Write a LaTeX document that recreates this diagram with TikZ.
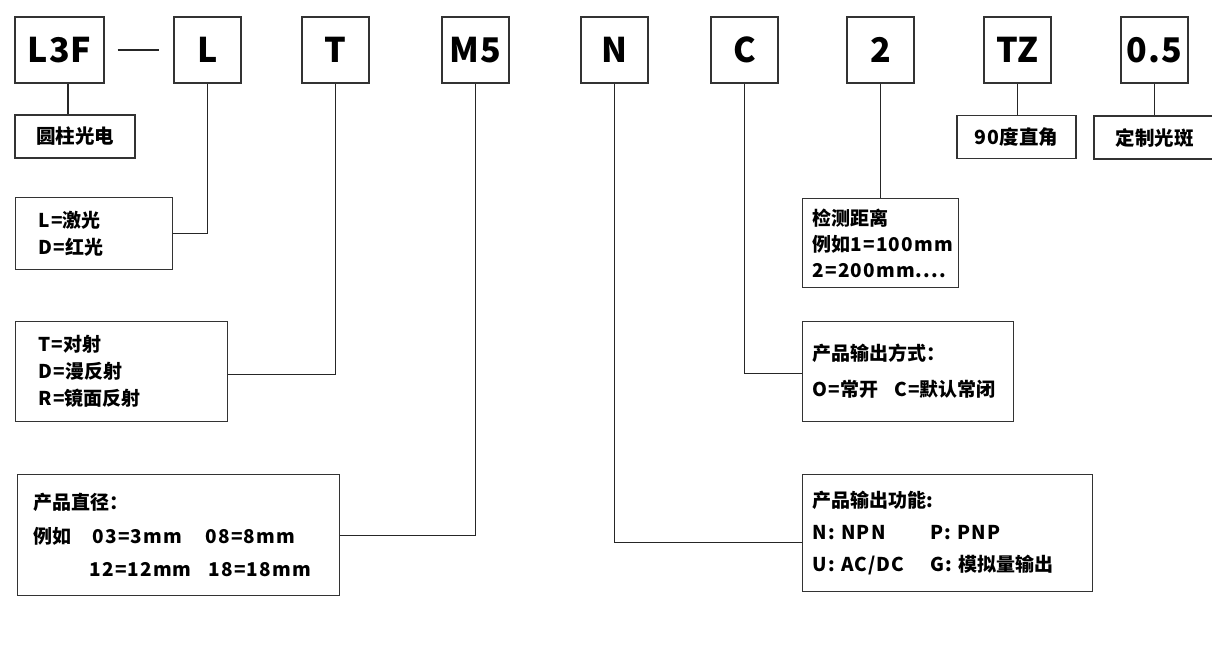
\documentclass[tikz,border=0pt]{standalone}
\usepackage{fontspec}
\newfontfamily\cjkfont{Noto Sans CJK SC}
\newfontfamily\engfont{Noto Sans CJK SC}[LetterSpace=6]
\newfontfamily\codefont{Noto Sans CJK SC}[LetterSpace=3]
\newcommand\eng[1]{{\engfont\bfseries #1}}
\usetikzlibrary{calc,positioning}
\tikzset{
  wire/.style={draw=black!85,line width=1.1pt},
  base/.style={draw=black!80,line width=1.2pt,inner ysep=0pt,
               font=\cjkfont\bfseries\fontsize{19}{27}\selectfont},
  code/.style={base,inner xsep=0pt,minimum width=67pt,minimum height=66pt,
               font=\codefont\bfseries\fontsize{34}{34}\selectfont},
  tagbox/.style={base,inner xsep=0pt,minimum height=43pt,font=\cjkfont\bfseries\fontsize{19.5}{20}\selectfont},
  note/.style={base,anchor=north west,align=left}
}
\begin{document}
\begin{tikzpicture}[x=1pt,y=-1pt]
  \useasboundingbox (0,0) rectangle (1212,658);
  % code row
  \node[code,minimum width=89pt] (l3f) at (59.5,50) {L3F};
  \foreach \n/\x/\t in {lsrc/207.5/L,tmode/335.5/T,dia/475.5/M5,outfn/614.5/N,
                        outmode/744.5/C,range/880.5/2,tz/1017.5/TZ,spot/1154.5/0.5}
    \node[code] (\n) at (\x,50) {\t};
  \draw[wire,shorten <=13pt,shorten >=14pt] (l3f.east) -- (lsrc.west);

  % small tags under the row
  \node[tagbox,minimum width=120pt] (yz) at (75,136.5) {圆柱光电};
  \node[tagbox,minimum width=119pt] (jz) at (1016.5,137) {\eng{90}度直角};
  \node[tagbox,minimum width=121pt] (gb) at (1154.5,137.5) {定制光斑};

  % explanation boxes
  \node[note,text width=111pt,inner xsep=23pt,minimum height=72pt] (jg) at (15,197)
    {\eng{L=}激光\\\eng{D=}红光};
  \node[note,text width=166pt,inner xsep=23pt,minimum height=100pt] (fs) at (15,321)
    {\eng{T=}对射\\\eng{D=}漫反射\\\eng{R=}镜面反射};
  \node[note,text width=290pt,inner xsep=16pt,minimum height=121pt,
        font=\cjkfont\bfseries\fontsize{19}{33.5}\selectfont] (zj) at (17,474)
    {产品直径：\\
     \makebox[59pt][l]{例如}\makebox[113pt][l]{\eng{03=3mm}}\eng{08=8mm}\\
     \makebox[56pt]{}\makebox[119pt][l]{\eng{12=12mm}}\eng{18=18mm}};
  \node[note,text width=136pt,inner xsep=10pt,minimum height=89pt,
        font=\cjkfont\bfseries\fontsize{19}{26}\selectfont] (jc) at (802,198)
    {检测距离\\例如\eng{1=100mm}\\\eng{2=200mm....}};
  \node[note,text width=191pt,inner xsep=10pt,minimum height=100pt,
        font=\cjkfont\bfseries\fontsize{19}{36}\selectfont] (sc) at (802,321)
    {产品输出方式：\\\eng{O=}常开\hspace{16pt}\eng{C=}默认常闭};
  \node[note,text width=270pt,inner xsep=10pt,minimum height=117pt,
        font=\cjkfont\bfseries\fontsize{19}{32}\selectfont] (gn) at (802,474)
    {产品输出功能:\\
     \makebox[118pt][l]{\eng{N: NPN}}\eng{P: PNP}\\
     \makebox[118pt][l]{\eng{U: AC/DC}}\eng{G: }模拟量输出};

  % connectors
  \draw[wire] ($(l3f.south)+(8.5,0)$) -- ($(yz.north)+(-7,0)$);
  \draw[wire] (tz.south) -- (tz.south |- jz.north);
  \draw[wire] (spot.south) -- (spot.south |- gb.north);
  \draw[wire] (lsrc.south) |- (jg.east);
  \draw[wire] (tmode.south) |- ($(fs.east)+(0,3)$);
  \draw[wire] (dia.south) |- (zj.east);
  \draw[wire] (range.south) -- (range.south |- jc.north);
  \draw[wire] (outmode.south) |- ($(sc.west)+(0,2)$);
  \draw[wire] (outfn.south) |- ($(gn.west)+(0,9.5)$);
\end{tikzpicture}
\end{document}
